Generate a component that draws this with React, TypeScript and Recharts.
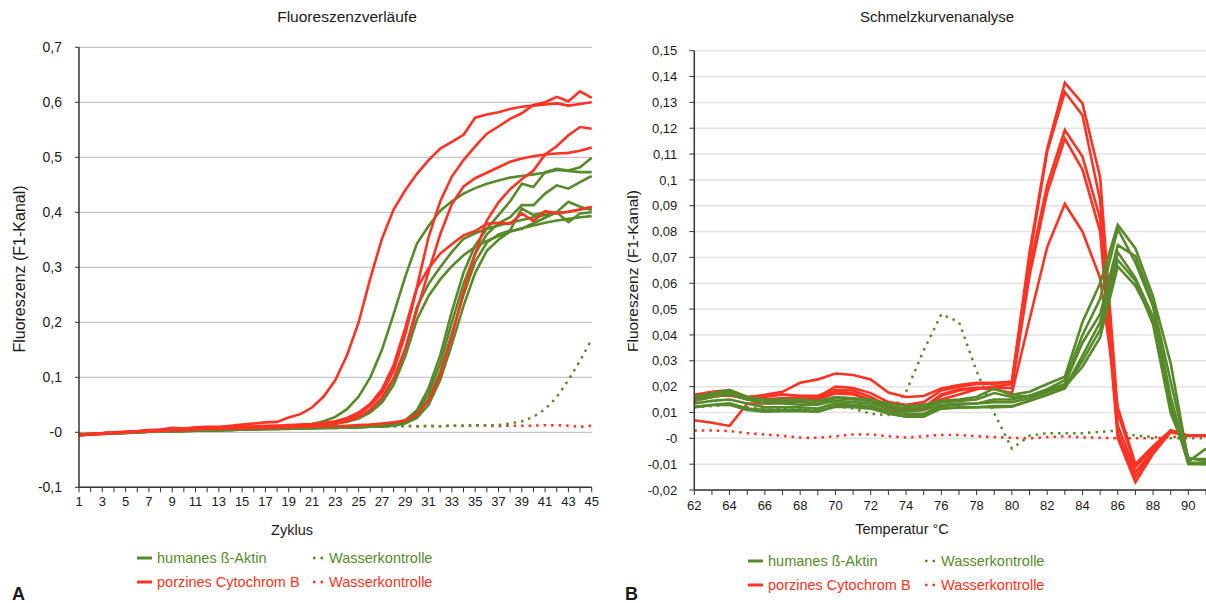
import React from 'react';
import { LineChart, Line, XAxis, YAxis, CartesianGrid } from 'recharts';

const RED = '#FF3324';
const GREEN = '#578A2B';

// ---------- Panel A: Fluoreszenzverläufe ----------
const cycles = [1,2,3,4,5,6,7,8,9,10,11,12,13,14,15,16,17,18,19,20,21,22,23,24,25,26,27,28,29,30,31,32,33,34,35,36,37,38,39,40,41,42,43,44,45];
const yTicksA = [-0.1, 0, 0.1, 0.2, 0.3, 0.4, 0.5, 0.6, 0.7];

const aktinA1 = [-0.004,-0.003,-0.002,-0.001,0.000,0.001,0.001,0.002,0.003,0.003,0.004,0.004,0.005,0.005,0.006,0.006,0.007,0.008,0.010,0.012,0.015,0.020,0.028,0.042,0.065,0.100,0.150,0.215,0.283,0.343,0.375,0.403,0.420,0.434,0.444,0.452,0.458,0.463,0.466,0.469,0.472,0.477,0.475,0.473,0.473];
const aktinA2 = [-0.003,-0.003,-0.002,-0.001,0.000,0.000,0.001,0.002,0.002,0.003,0.003,0.004,0.005,0.005,0.006,0.006,0.007,0.008,0.009,0.010,0.011,0.013,0.016,0.021,0.028,0.040,0.060,0.095,0.150,0.228,0.270,0.300,0.328,0.352,0.362,0.370,0.376,0.381,0.386,0.391,0.395,0.399,0.401,0.405,0.409];
const aktinA3 = [-0.004,-0.003,-0.003,-0.002,-0.001,0.000,0.001,0.001,0.002,0.003,0.003,0.004,0.004,0.005,0.005,0.006,0.006,0.007,0.008,0.009,0.010,0.012,0.015,0.019,0.025,0.036,0.054,0.086,0.138,0.205,0.248,0.278,0.302,0.322,0.337,0.348,0.357,0.365,0.371,0.376,0.381,0.385,0.388,0.391,0.393];
const aktinA4 = [-0.004,-0.003,-0.002,-0.001,0.000,0.001,0.001,0.002,0.002,0.003,0.003,0.004,0.004,0.005,0.005,0.006,0.006,0.007,0.007,0.008,0.008,0.009,0.009,0.010,0.010,0.011,0.012,0.015,0.022,0.040,0.080,0.140,0.220,0.290,0.340,0.370,0.395,0.420,0.452,0.446,0.473,0.479,0.476,0.482,0.499];
const aktinA5 = [-0.003,-0.003,-0.002,-0.001,0.000,0.000,0.001,0.002,0.002,0.003,0.003,0.004,0.004,0.005,0.005,0.006,0.006,0.006,0.007,0.007,0.008,0.008,0.009,0.009,0.010,0.010,0.011,0.014,0.020,0.035,0.070,0.125,0.200,0.270,0.325,0.360,0.380,0.391,0.413,0.413,0.434,0.449,0.443,0.455,0.466];
const aktinA6 = [-0.004,-0.004,-0.003,-0.002,-0.001,0.000,0.001,0.001,0.002,0.002,0.003,0.003,0.004,0.004,0.005,0.005,0.006,0.006,0.007,0.007,0.008,0.008,0.008,0.009,0.009,0.010,0.010,0.013,0.018,0.030,0.060,0.110,0.180,0.250,0.310,0.345,0.360,0.367,0.407,0.395,0.400,0.400,0.419,0.410,0.404];
const aktinA7 = [-0.004,-0.003,-0.002,-0.002,-0.001,0.000,0.001,0.001,0.002,0.002,0.003,0.003,0.004,0.004,0.005,0.005,0.006,0.006,0.006,0.007,0.007,0.008,0.008,0.009,0.009,0.010,0.010,0.012,0.016,0.026,0.050,0.095,0.160,0.230,0.290,0.330,0.350,0.365,0.370,0.380,0.390,0.400,0.382,0.398,0.400];

const cytA1 = [-0.006,-0.004,-0.002,-0.001,0.001,0.002,0.004,0.005,0.008,0.007,0.009,0.010,0.010,0.012,0.014,0.016,0.018,0.019,0.027,0.033,0.045,0.065,0.095,0.140,0.200,0.280,0.352,0.405,0.440,0.470,0.495,0.516,0.528,0.541,0.572,0.578,0.582,0.588,0.592,0.594,0.596,0.598,0.594,0.597,0.600];
const cytA2 = [-0.005,-0.003,-0.002,0.000,0.001,0.002,0.003,0.004,0.006,0.006,0.007,0.008,0.008,0.009,0.010,0.011,0.012,0.012,0.013,0.014,0.015,0.017,0.020,0.026,0.036,0.052,0.078,0.122,0.190,0.264,0.355,0.420,0.465,0.495,0.520,0.543,0.556,0.570,0.580,0.595,0.600,0.610,0.602,0.620,0.608];
const cytA3 = [-0.005,-0.004,-0.002,-0.001,0.000,0.002,0.003,0.004,0.005,0.006,0.007,0.007,0.008,0.009,0.010,0.010,0.011,0.012,0.012,0.013,0.014,0.016,0.019,0.024,0.033,0.048,0.072,0.112,0.178,0.262,0.298,0.325,0.342,0.358,0.366,0.379,0.381,0.379,0.398,0.384,0.402,0.398,0.401,0.405,0.410];
const cytA4 = [-0.005,-0.003,-0.002,-0.001,0.000,0.001,0.002,0.003,0.005,0.005,0.006,0.007,0.007,0.008,0.009,0.009,0.010,0.011,0.011,0.012,0.013,0.015,0.017,0.020,0.028,0.041,0.063,0.098,0.152,0.222,0.292,0.360,0.415,0.447,0.462,0.472,0.482,0.492,0.498,0.502,0.505,0.507,0.508,0.512,0.518];
const cytA5 = [-0.005,-0.004,-0.003,-0.001,0.000,0.001,0.002,0.003,0.004,0.004,0.005,0.006,0.006,0.007,0.007,0.008,0.008,0.009,0.009,0.010,0.010,0.011,0.011,0.012,0.013,0.014,0.016,0.018,0.022,0.032,0.058,0.105,0.175,0.255,0.325,0.385,0.418,0.442,0.460,0.476,0.505,0.520,0.540,0.555,0.552];

const waterGreenA = [-0.004,-0.003,-0.002,-0.001,0.000,0.001,0.002,0.002,0.003,0.004,0.004,0.005,0.005,0.006,0.006,0.007,0.007,0.008,0.008,0.009,0.009,0.009,0.010,0.010,0.010,0.010,0.011,0.011,0.011,0.011,0.011,0.011,0.012,0.012,0.012,0.013,0.013,0.016,0.020,0.028,0.042,0.064,0.095,0.130,0.169];
const waterRedA = [-0.004,-0.003,-0.002,-0.001,0.000,0.001,0.002,0.003,0.003,0.004,0.005,0.005,0.006,0.006,0.007,0.007,0.008,0.008,0.009,0.009,0.010,0.010,0.011,0.010,0.011,0.011,0.012,0.011,0.012,0.011,0.012,0.011,0.012,0.012,0.013,0.012,0.011,0.012,0.012,0.012,0.013,0.013,0.012,0.010,0.012];

// ---------- Panel B: Schmelzkurvenanalyse ----------
const temps = [62,63,64,65,66,67,68,69,70,71,72,73,74,75,76,77,78,79,80,81,82,83,84,85,86,87,88,89,90,91];
const yTicksB = [-0.02,-0.01,0,0.01,0.02,0.03,0.04,0.05,0.06,0.07,0.08,0.09,0.1,0.11,0.12,0.13,0.14,0.15];

const aktinB1 = [0.0161,0.0175,0.0187,0.016,0.015,0.015,0.015,0.0145,0.016,0.0155,0.015,0.0135,0.0125,0.013,0.0145,0.015,0.016,0.0193,0.0168,0.018,0.021,0.0238,0.045,0.060,0.0826,0.0735,0.0548,0.029,-0.009,-0.004];
const aktinB2 = [0.015,0.017,0.018,0.0155,0.0145,0.0145,0.014,0.0135,0.0155,0.015,0.0145,0.0125,0.0115,0.012,0.014,0.0145,0.015,0.0175,0.016,0.0165,0.019,0.0225,0.040,0.054,0.081,0.068,0.051,0.016,-0.0095,-0.010];
const aktinB3 = [0.0145,0.016,0.017,0.015,0.0135,0.0135,0.013,0.013,0.0145,0.014,0.0135,0.0115,0.0105,0.011,0.013,0.0135,0.0135,0.015,0.015,0.0165,0.0185,0.021,0.037,0.048,0.0748,0.0705,0.052,0.022,-0.008,-0.008];
const aktinB4 = [0.0122,0.013,0.0135,0.0115,0.011,0.011,0.011,0.0105,0.0125,0.0125,0.012,0.0095,0.0085,0.009,0.0115,0.012,0.012,0.0125,0.0125,0.0145,0.017,0.0195,0.032,0.045,0.072,0.062,0.047,0.012,-0.0095,-0.0095];
const aktinB5 = [0.012,0.0128,0.013,0.011,0.0103,0.0105,0.0105,0.0103,0.0122,0.012,0.0115,0.0097,0.0084,0.0084,0.0116,0.0118,0.012,0.012,0.0122,0.0145,0.0168,0.0193,0.030,0.042,0.069,0.061,0.044,0.0097,-0.0075,-0.009];
const aktinB6 = [0.0135,0.0145,0.015,0.0135,0.012,0.012,0.012,0.0115,0.0135,0.013,0.0125,0.0105,0.0095,0.0095,0.0125,0.013,0.0135,0.014,0.014,0.0155,0.018,0.020,0.0277,0.039,0.0665,0.059,0.046,0.014,-0.010,-0.010];

const cytB1 = [0.0145,0.016,0.017,0.015,0.015,0.0155,0.016,0.016,0.020,0.0195,0.0175,0.014,0.013,0.014,0.0185,0.020,0.021,0.021,0.022,0.072,0.112,0.1376,0.1296,0.101,0.010,-0.011,-0.004,0.003,0.001,0.001];
const cytB2 = [0.016,0.017,0.018,0.016,0.016,0.017,0.0165,0.0165,0.0187,0.0185,0.016,0.0125,0.011,0.0115,0.015,0.017,0.019,0.020,0.021,0.070,0.111,0.134,0.125,0.092,0.005,-0.013,-0.005,0.0025,0.001,0.001];
const cytB3 = [0.0168,0.018,0.0187,0.016,0.0168,0.018,0.0215,0.0228,0.0251,0.0245,0.0228,0.0177,0.016,0.0164,0.0193,0.0206,0.0215,0.0215,0.0219,0.066,0.098,0.1193,0.109,0.085,0.002,-0.015,-0.005,0.003,0.001,0.001];
const cytB4 = [0.007,0.006,0.0048,0.0135,0.0135,0.014,0.0145,0.015,0.0174,0.017,0.015,0.011,0.0105,0.011,0.0165,0.0185,0.0195,0.0195,0.0195,0.063,0.095,0.116,0.104,0.080,0.000,-0.017,-0.006,0.0025,0.001,0.001];
const cytB5 = [0.015,0.0165,0.0165,0.0155,0.015,0.0155,0.015,0.0155,0.018,0.0175,0.0145,0.012,0.0115,0.012,0.017,0.019,0.0195,0.019,0.0175,0.046,0.074,0.0907,0.080,0.062,0.012,-0.010,-0.003,0.003,0.001,0.001];

const waterGreenB = [0.012,0.0125,0.013,0.012,0.0115,0.0115,0.0115,0.011,0.0125,0.0115,0.0095,0.009,0.018,0.034,0.048,0.045,0.026,0.0097,-0.004,0.001,0.002,0.002,0.002,0.0025,0.003,0.001,0.0005,0.0,0.0,0.0];
const waterRedB = [0.003,0.003,0.0028,0.002,0.0015,0.001,0.0003,0.0002,0.0008,0.0015,0.0015,0.0008,0.0003,0.0008,0.0013,0.0013,0.0008,0.0005,0.0002,0.0,0.0005,0.0008,0.0004,0.0002,0.0,0.0,0.0,0.0005,0.0008,0.0008];

const legendItems = ['humanes ß-Aktin', 'porzines Cytochrom B', 'Wasserkontrolle'];

// ---------- build tables ----------
const seriesA: [string, number[], string, boolean][] = [
  ['wr', waterRedA, RED, true],
  ['wg', waterGreenA, GREEN, true],
  ['g1', aktinA1, GREEN, false],
  ['g2', aktinA2, GREEN, false],
  ['g3', aktinA3, GREEN, false],
  ['g4', aktinA4, GREEN, false],
  ['g5', aktinA5, GREEN, false],
  ['g6', aktinA6, GREEN, false],
  ['g7', aktinA7, GREEN, false],
  ['r1', cytA1, RED, false],
  ['r2', cytA2, RED, false],
  ['r3', cytA3, RED, false],
  ['r4', cytA4, RED, false],
  ['r5', cytA5, RED, false],
];
const seriesB: [string, number[], string, boolean][] = [
  ['wr', waterRedB, RED, true],
  ['wg', waterGreenB, GREEN, true],
  ['r1', cytB1, RED, false],
  ['r2', cytB2, RED, false],
  ['r3', cytB3, RED, false],
  ['r4', cytB4, RED, false],
  ['r5', cytB5, RED, false],
  ['g1', aktinB1, GREEN, false],
  ['g2', aktinB2, GREEN, false],
  ['g3', aktinB3, GREEN, false],
  ['g4', aktinB4, GREEN, false],
  ['g5', aktinB5, GREEN, false],
  ['g6', aktinB6, GREEN, false],
];

const dataA = cycles.map((c, i) => {
  const row: Record<string, number> = { c };
  seriesA.forEach(([k, arr]) => { row[k] = arr[i]; });
  return row;
});
const dataB = temps.map((t, i) => {
  const row: Record<string, number> = { t };
  seriesB.forEach(([k, arr]) => { row[k] = arr[i]; });
  return row;
});

const fmtY = (v: number) => (v === 0 ? '-0' : String(v).replace('.', ','));
const FONT = '"Liberation Sans", Arial, sans-serif';
const TXT = '#1a1a1a';

function renderLines(series: [string, number[], string, boolean][]) {
  return series.map(([k, , color, dotted]) => (
    <Line
      key={k}
      type="linear"
      dataKey={k}
      stroke={color}
      strokeWidth={dotted ? 2.5 : 2.6}
      strokeDasharray={dotted ? '2.5 5' : undefined}
      dot={false}
      activeDot={false}
      isAnimationActive={false}
    />
  ));
}

function Legend({ x1, x2, y1, y2 }: { x1: number; x2: number; y1: number; y2: number }) {
  return (
    <g fontFamily={FONT} fontSize={14.5}>
      <line x1={x1} x2={x1 + 15} y1={y1} y2={y1} stroke={GREEN} strokeWidth={3} />
      <text x={x1 + 20} y={y1 + 5} fill={GREEN}>{legendItems[0]}</text>
      <line x1={x2} x2={x2 + 10} y1={y1} y2={y1} stroke={GREEN} strokeWidth={2.5} strokeDasharray="2.5 5" />
      <text x={x2 + 16} y={y1 + 5} fill={GREEN}>{legendItems[2]}</text>
      <line x1={x1} x2={x1 + 15} y1={y2} y2={y2} stroke={RED} strokeWidth={3} />
      <text x={x1 + 20} y={y2 + 5} fill={RED}>{legendItems[1]}</text>
      <line x1={x2} x2={x2 + 10} y1={y2} y2={y2} stroke={RED} strokeWidth={2.5} strokeDasharray="2.5 5" />
      <text x={x2 + 16} y={y2 + 5} fill={RED}>{legendItems[2]}</text>
    </g>
  );
}

export default function App() {
  return (
    <div style={{ position: 'absolute', left: 0, top: 0, width: 1206, height: 603, overflow: 'hidden', background: '#fff', fontFamily: FONT }}>
      <div style={{ position: 'absolute', left: 0, top: 0 }}>
        <LineChart width={600} height={603} data={dataA} margin={{ top: 47.3, right: 8.3, left: 29, bottom: 85.7 }}>
          <CartesianGrid vertical={false} stroke="#c4c4c4" strokeWidth={1.2} />
          <XAxis
            dataKey="c"
            type="number"
            domain={[1, 45]}
            ticks={cycles}
            interval={0}
            tickFormatter={(v: number) => (v % 2 === 1 ? String(v) : '')}
            tick={{ fontSize: 13, fill: TXT, fontFamily: FONT }}
            tickLine={{ stroke: '#333' }}
            axisLine={{ stroke: '#333', strokeWidth: 1.5 }}
            tickSize={5}
            tickMargin={4}
            height={30}
          />
          <YAxis
            type="number"
            domain={[-0.1, 0.7]}
            ticks={yTicksA}
            interval={0}
            tickFormatter={fmtY}
            tick={{ fontSize: 14, fill: TXT, fontFamily: FONT }}
            tickLine={{ stroke: '#333' }}
            axisLine={{ stroke: '#333', strokeWidth: 1.5 }}
            tickSize={4}
            tickMargin={13}
            width={50}
          />
          {renderLines(seriesA)}
        </LineChart>
      </div>
      <div style={{ position: 'absolute', left: 600, top: 0 }}>
        <LineChart width={606} height={603} data={dataB} margin={{ top: 50.7, right: 0, left: 34.3, bottom: 83 }}>
          <CartesianGrid vertical={false} stroke="#e3e3e3" strokeWidth={1.5} />
          <XAxis
            dataKey="t"
            type="number"
            domain={[62, 91]}
            ticks={temps}
            interval={0}
            tickFormatter={(v: number) => (v % 2 === 0 ? String(v) : '')}
            tick={{ fontSize: 13, fill: TXT, fontFamily: FONT }}
            tickLine={{ stroke: '#333' }}
            axisLine={{ stroke: '#333', strokeWidth: 1.5 }}
            tickSize={5}
            tickMargin={6}
            height={30}
          />
          <YAxis
            type="number"
            domain={[-0.02, 0.15]}
            ticks={yTicksB}
            interval={0}
            tickFormatter={fmtY}
            tick={{ fontSize: 13, fill: TXT, fontFamily: FONT }}
            tickLine={{ stroke: '#333' }}
            axisLine={{ stroke: '#333', strokeWidth: 1.5 }}
            tickSize={5}
            tickMargin={12}
            width={60}
          />
          {renderLines(seriesB)}
        </LineChart>
      </div>
      <svg width={1206} height={603} style={{ position: 'absolute', left: 0, top: 0, pointerEvents: 'none' }}>
        <g fontFamily={FONT} fill={TXT}>
          <text x={347} y={22} fontSize={15.5} textAnchor="middle">Fluoreszenzverläufe</text>
          <text x={937} y={22} fontSize={15} textAnchor="middle">Schmelzkurvenanalyse</text>
          <text x={292} y={535} fontSize={14.5} textAnchor="middle">Zyklus</text>
          <text x={902} y={534} fontSize={14.5} textAnchor="middle">Temperatur °C</text>
          <text transform="translate(25,269) rotate(-90)" fontSize={16} textAnchor="middle">Fluoreszenz (F1-Kanal)</text>
          <text transform="translate(638,271) rotate(-90)" fontSize={15.5} textAnchor="middle">Fluoreszenz (F1-Kanal)</text>
          <text x={12} y={600} fontSize={18} fontWeight="bold">A</text>
          <text x={625} y={600} fontSize={18} fontWeight="bold">B</text>
        </g>
        <Legend x1={137} x2={313} y1={558} y2={582} />
        <Legend x1={748} x2={925} y1={561} y2={585} />
      </svg>
    </div>
  );
}
